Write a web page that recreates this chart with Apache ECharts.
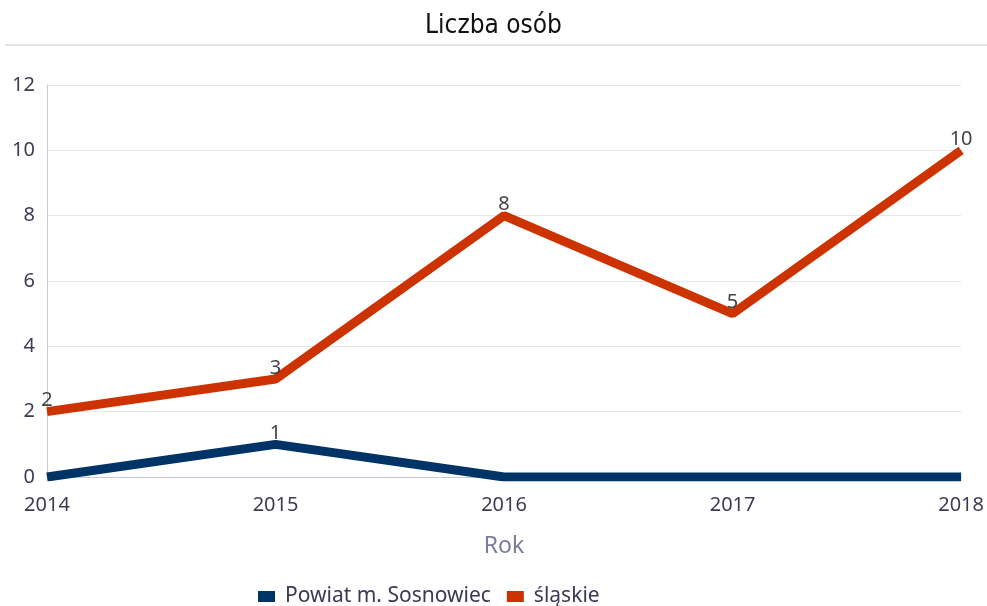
<!DOCTYPE html>
<html>
<head>
<meta charset="utf-8">
<script src="https://cdn.jsdelivr.net/npm/echarts@6/dist/echarts.min.js"></script>
<style>
  html, body { margin: 0; padding: 0; background: #fff; }
  #chart { width: 987px; height: 606px; }
</style>
</head>
<body>
<div id="chart"></div>
<script>
// Data
const years = ['2014', '2015', '2016', '2017', '2018'];
const sosnowiec = [0, 1, 0, 0, 0];
const slaskie = [2, 3, 8, 5, 10];
const seriesNames = ['Powiat m. Sosnowiec', 'śląskie'];

const chart = echarts.init(document.getElementById('chart'));

const labelStyle = {
  show: true,
  position: 'top',
  distance: 1,
  color: '#444',
  fontSize: 20,
  fontFamily: 'Noto Sans'
};

const option = {
  animation: false,
  title: {
    text: 'Liczba osób',
    left: 'center',
    top: 8,
    textStyle: {
      fontSize: 26,
      fontWeight: 'normal',
      color: '#111',
      fontFamily: '"DejaVu Sans Condensed", "Noto Sans", sans-serif'
    }
  },
  graphic: [{
    type: 'line',
    shape: { x1: 5, y1: 45, x2: 987, y2: 45 },
    style: { stroke: '#e4e4e8', lineWidth: 2 }
  }],
  legend: {
    top: 581,
    left: 253,
    itemWidth: 17,
    itemHeight: 11,
    itemGap: 16,
    icon: 'rect',
    textStyle: { fontSize: 21, color: '#3a3a55', fontFamily: 'Noto Sans', padding: [0, 0, 0, 5] },
    data: seriesNames
  },
  grid: { left: 47, right: 22, top: 85, bottom: 129 },
  xAxis: {
    type: 'category',
    data: years,
    boundaryGap: false,
    name: 'Rok',
    nameLocation: 'middle',
    nameGap: 58,
    nameTextStyle: { fontSize: 23, color: '#7a7c9f', fontFamily: 'Noto Sans' },
    axisLine: { lineStyle: { color: '#c8c9d8', width: 1 } },
    axisTick: { show: false },
    axisLabel: { fontSize: 20, color: '#3c3c55', margin: 18, fontFamily: 'Noto Sans' },
    splitLine: { show: false }
  },
  yAxis: {
    type: 'value',
    min: 0,
    max: 12,
    interval: 2,
    axisLine: { show: true, lineStyle: { color: '#c8c9d8', width: 1 } },
    axisTick: { show: false },
    axisLabel: { fontSize: 20, color: '#3c3c55', margin: 12, fontFamily: 'Noto Sans' },
    splitLine: { lineStyle: { color: '#e6e6ec', width: 1 } }
  },
  series: [
    {
      name: seriesNames[0],
      type: 'line',
      data: sosnowiec,
      symbol: 'circle',
      symbolSize: 0,
      lineStyle: { width: 9, color: '#003466' },
      itemStyle: { color: '#003466' },
      label: Object.assign({}, labelStyle, {
        formatter: p => (p.value > 0 ? p.value : '')
      })
    },
    {
      name: seriesNames[1],
      type: 'line',
      data: slaskie,
      symbol: 'circle',
      symbolSize: 0,
      lineStyle: { width: 9, color: '#cc3300' },
      itemStyle: { color: '#cc3300' },
      label: labelStyle
    }
  ]
};

chart.setOption(option);
</script>
</body>
</html>
